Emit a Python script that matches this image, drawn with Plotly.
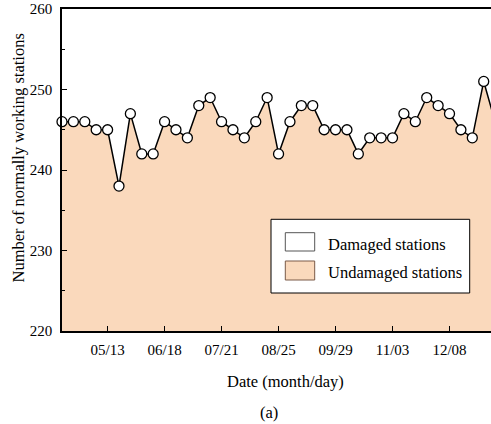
import plotly.graph_objects as go

idx = list(range(39))
stations = [246, 246, 246, 245, 245, 238, 247, 242, 242, 246,
            245, 244, 248, 249, 246, 245, 244, 246, 249, 242,
            246, 248, 248, 245, 245, 245, 242, 244, 244, 244,
            247, 246, 249, 248, 247, 245, 244, 251, 246]
tick_pos = [4, 9, 14, 19, 24, 29, 34]
tick_labels = ["05/13", "06/18", "07/21", "08/25", "09/29", "11/03", "12/08"]

PEACH = "#FAD9BC"
FONT = "Liberation Serif"

fig = go.Figure()
fig.add_trace(go.Scatter(
    x=idx, y=stations, mode="lines+markers",
    fill="tozeroy", fillcolor=PEACH,
    line=dict(color="black", width=1.5),
    marker=dict(size=10, color="white", line=dict(color="black", width=1.3)),
    cliponaxis=False, showlegend=False, name="Undamaged stations",
))

W, H = 491, 424
L, R, T, B = 62, 0, 9, 93
pw, ph = W - L - R, H - T - B

def px(x):
    return (x - L) / pw

def py(y):
    return (H - B - y) / ph

shapes = [
    dict(type="rect", xref="paper", yref="paper", x0=px(271), x1=px(469.7), y0=py(293), y1=py(219.3),
         fillcolor="white", line=dict(color="black", width=1), layer="above"),
    dict(type="rect", xref="paper", yref="paper", x0=px(285.3), x1=px(314.7), y0=py(251), y1=py(232.7),
         fillcolor="white", line=dict(color="#555555", width=1), layer="above"),
    dict(type="rect", xref="paper", yref="paper", x0=px(285.3), x1=px(314.7), y0=py(280), y1=py(261),
         fillcolor=PEACH, line=dict(color="#7a5a48", width=1), layer="above"),
]

TS = 16.5
annotations = [
    dict(text="Damaged stations", xref="paper", yref="paper", x=px(326), y=py(244),
         xanchor="left", yanchor="middle", showarrow=False, font=dict(family=FONT, size=TS, color="black")),
    dict(text="Undamaged stations", xref="paper", yref="paper", x=px(326), y=py(272),
         xanchor="left", yanchor="middle", showarrow=False, font=dict(family=FONT, size=TS, color="black")),
    dict(text="Number of normally working stations", xref="paper", yref="paper", x=px(18), y=py(158.5),
         textangle=-90, xanchor="center", yanchor="middle", showarrow=False,
         font=dict(family=FONT, size=TS, color="black")),
    dict(text="Date (month/day)", xref="paper", yref="paper", x=px(285), y=py(381),
         xanchor="center", yanchor="middle", showarrow=False, font=dict(family=FONT, size=TS, color="black")),
    dict(text="(a)", xref="paper", yref="paper", x=px(269), y=py(412),
         xanchor="center", yanchor="middle", showarrow=False, font=dict(family=FONT, size=TS, color="black")),
]

fig.update_layout(
    width=W, height=H,
    margin=dict(l=L, r=R, t=T, b=B, pad=0),
    paper_bgcolor="white", plot_bgcolor="white",
    font=dict(family=FONT, size=15, color="black"),
    shapes=shapes, annotations=annotations,
    xaxis=dict(range=[0, 37.64], tickmode="array", tickvals=tick_pos, ticktext=tick_labels,
               ticks="inside", ticklen=5, tickwidth=1, tickcolor="black",
               showline=True, linecolor="black", linewidth=1.5, mirror=True,
               showgrid=False, zeroline=False, ticklabelstandoff=4),
    yaxis=dict(range=[220, 260], dtick=10, ticks="inside", ticklen=5, tickwidth=1, tickcolor="black",
               minor=dict(ticks="inside", ticklen=3, dtick=5, tickcolor="black", showgrid=False),
               showline=True, linecolor="black", linewidth=1.5, mirror=False,
               showgrid=False, zeroline=False, ticklabelstandoff=5),
)

fig.write_html("out.html", config={"displayModeBar": False},
               post_script="document.body.style.margin='0';document.body.style.padding='0';document.body.style.overflow='hidden';")
